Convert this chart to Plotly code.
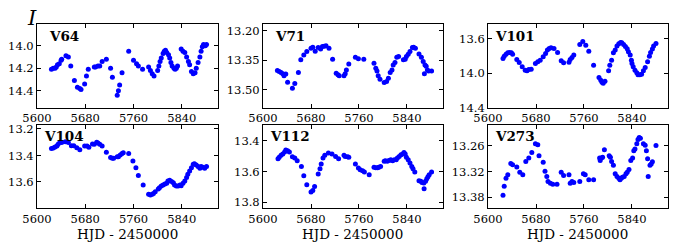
import plotly.graph_objects as go

# ---- data (HJD - 2450000, I magnitude) ----
V64_T = [5624, 5627, 5630, 5632, 5634, 5637, 5640, 5641, 5648, 5652, 5656, 5662, 5667, 5671, 5673,
         5679, 5682, 5685, 5695, 5697, 5701, 5704, 5708, 5715, 5722, 5725, 5733, 5735, 5737, 5741,
         5752, 5760, 5765, 5768, 5775, 5785, 5788, 5791, 5794, 5800, 5802, 5804, 5806, 5809, 5811,
         5813, 5815, 5818, 5820, 5822, 5824, 5827, 5829, 5831, 5833, 5839, 5842, 5845, 5848, 5851,
         5853, 5856, 5859, 5862, 5864, 5867, 5870, 5872, 5874, 5876, 5879, 5881]
V64_M = [14.21, 14.20, 14.20, 14.19, 14.17, 14.16, 14.13, 14.12, 14.09, 14.10, 14.18, 14.31, 14.37, 14.38, 14.39,
         14.34, 14.27, 14.21, 14.19, 14.19, 14.18, 14.18, 14.14, 14.12, 14.20, 14.28, 14.44, 14.40, 14.35, 14.24,
         14.05, 14.13, 14.16, 14.18, 14.21, 14.19, 14.22, 14.25, 14.27, 14.22, 14.18, 14.14, 14.11, 14.07, 14.05,
         14.04, 14.06, 14.08, 14.11, 14.15, 14.18, 14.20, 14.21, 14.20, 14.18, 14.03, 14.05, 14.06, 14.10, 14.14,
         14.17, 14.23, 14.25, 14.24, 14.20, 14.15, 14.10, 14.05, 14.01, 13.99, 14.00, 13.99]

V71_T = [5624, 5627, 5630, 5633, 5635, 5638, 5641, 5649, 5653, 5659, 5663, 5668, 5673, 5680, 5683,
         5687, 5692, 5696, 5699, 5702, 5705, 5710, 5716, 5722, 5725, 5727, 5735, 5737, 5739, 5743,
         5754, 5759, 5768, 5785, 5788, 5790, 5792, 5795, 5802, 5806, 5809, 5812, 5815, 5817, 5820,
         5823, 5826, 5834, 5837, 5839, 5842, 5845, 5849, 5851, 5854, 5860, 5864, 5867, 5869, 5870,
         5872, 5874, 5876, 5881]
V71_M = [13.402, 13.407, 13.412, 13.419, 13.428, 13.420, 13.461, 13.492, 13.468, 13.412, 13.347, 13.323, 13.306, 13.289, 13.284,
         13.305, 13.286, 13.293, 13.281, 13.279, 13.276, 13.289, 13.345, 13.416, 13.424, 13.429, 13.429, 13.419, 13.399, 13.369,
         13.335, 13.343, 13.345, 13.365, 13.391, 13.404, 13.429, 13.446, 13.463, 13.458, 13.441, 13.412, 13.399, 13.374, 13.362,
         13.335, 13.331, 13.348, 13.345, 13.331, 13.320, 13.306, 13.286, 13.284, 13.289, 13.318, 13.335, 13.357, 13.419, 13.374,
         13.380, 13.399, 13.404, 13.404]

V101_T = [5625, 5627, 5630, 5633, 5636, 5639, 5641, 5648, 5652, 5657, 5662, 5665, 5668, 5672, 5679,
          5683, 5687, 5692, 5696, 5699, 5702, 5705, 5710, 5716, 5722, 5726, 5735, 5737, 5740, 5743,
          5753, 5758, 5763, 5768, 5776, 5785, 5788, 5790, 5792, 5795, 5801, 5803, 5806, 5809, 5812,
          5815, 5818, 5821, 5823, 5826, 5829, 5832, 5834, 5837, 5839, 5840, 5842, 5845, 5848, 5850,
          5853, 5856, 5859, 5862, 5866, 5869, 5871, 5874, 5876, 5880]
V101_M = [13.829, 13.802, 13.779, 13.763, 13.759, 13.763, 13.779, 13.841, 13.876, 13.926, 13.965, 13.973, 13.957, 13.953, 13.887,
          13.868, 13.849, 13.810, 13.771, 13.732, 13.713, 13.705, 13.713, 13.759, 13.856, 13.880, 13.872, 13.841, 13.817, 13.790,
          13.666, 13.631, 13.674, 13.744, 13.907, 14.050, 14.082, 14.105, 14.117, 14.093, 13.973, 13.907, 13.849, 13.763, 13.732,
          13.685, 13.658, 13.643, 13.647, 13.666, 13.689, 13.717, 13.751, 13.790, 13.849, 13.887, 13.926, 13.965, 13.996, 14.019,
          14.019, 14.012, 13.973, 13.934, 13.868, 13.802, 13.759, 13.720, 13.685, 13.654]

V104_T = [5624, 5627, 5630, 5633, 5635, 5638, 5641, 5647, 5652, 5657, 5661, 5666, 5671, 5679, 5683,
          5686, 5692, 5695, 5699, 5701, 5704, 5708, 5715, 5722, 5725, 5727, 5733, 5735, 5738, 5741,
          5743, 5752, 5759, 5764, 5768, 5776, 5785, 5788, 5791, 5793, 5796, 5801, 5803, 5806, 5809,
          5812, 5815, 5817, 5820, 5823, 5826, 5828, 5831, 5834, 5837, 5839, 5842, 5845, 5848, 5850,
          5853, 5856, 5859, 5861, 5864, 5867, 5870, 5872, 5875, 5878, 5881]
V104_M = [13.348, 13.343, 13.336, 13.328, 13.316, 13.301, 13.303, 13.296, 13.303, 13.326, 13.326, 13.341, 13.356, 13.328, 13.328,
          13.338, 13.313, 13.316, 13.301, 13.306, 13.316, 13.328, 13.376, 13.416, 13.421, 13.421, 13.409, 13.409, 13.396, 13.386,
          13.379, 13.386, 13.442, 13.492, 13.552, 13.623, 13.693, 13.698, 13.693, 13.686, 13.673, 13.653, 13.643, 13.630, 13.623,
          13.615, 13.610, 13.592, 13.587, 13.597, 13.605, 13.623, 13.630, 13.630, 13.623, 13.628, 13.610, 13.592, 13.567, 13.542,
          13.517, 13.492, 13.467, 13.462, 13.472, 13.484, 13.497, 13.484, 13.489, 13.497, 13.484]

V112_T = [5625, 5627, 5630, 5633, 5636, 5638, 5641, 5644, 5649, 5653, 5657, 5664, 5668, 5673, 5680,
          5683, 5686, 5692, 5695, 5697, 5700, 5703, 5709, 5715, 5721, 5726, 5735, 5737, 5741, 5743,
          5754, 5759, 5762, 5766, 5769, 5777, 5785, 5788, 5791, 5793, 5796, 5802, 5804, 5807, 5810,
          5813, 5816, 5819, 5822, 5824, 5827, 5830, 5833, 5835, 5837, 5839, 5842, 5845, 5848, 5850,
          5853, 5860, 5863, 5865, 5868, 5868.5, 5871, 5873, 5875, 5877, 5881]
V112_M = [13.517, 13.508, 13.495, 13.487, 13.474, 13.461, 13.465, 13.474, 13.504, 13.513, 13.530, 13.567, 13.627, 13.686, 13.733,
          13.723, 13.697, 13.616, 13.582, 13.552, 13.513, 13.495, 13.480, 13.487, 13.502, 13.517, 13.495, 13.502, 13.504, 13.508,
          13.552, 13.577, 13.588, 13.595, 13.603, 13.621, 13.573, 13.576, 13.576, 13.573, 13.567, 13.534, 13.530, 13.534, 13.528,
          13.523, 13.530, 13.523, 13.523, 13.513, 13.502, 13.491, 13.487, 13.476, 13.487, 13.508, 13.523, 13.545, 13.567, 13.582,
          13.603, 13.660, 13.664, 13.671, 13.675, 13.712, 13.664, 13.647, 13.634, 13.621, 13.603]

V273_T = [5625, 5627, 5630, 5633, 5638, 5641, 5648, 5653, 5658, 5663, 5668, 5673, 5679, 5683, 5685,
          5692, 5695, 5698, 5700, 5704, 5708, 5715, 5722, 5726, 5735, 5737, 5740, 5743, 5753, 5759,
          5762, 5768, 5776, 5786, 5787, 5789, 5791, 5794, 5802, 5804, 5806, 5809, 5812, 5815, 5818,
          5820, 5822, 5824, 5827, 5830, 5832, 5835, 5838, 5841, 5843, 5845, 5848, 5850, 5852, 5854,
          5859, 5862, 5864, 5866, 5867, 5870, 5872, 5874, 5880]
V273_M = [13.375, 13.354, 13.335, 13.327, 13.301, 13.304, 13.309, 13.321, 13.327, 13.296, 13.288, 13.275, 13.255, 13.257, 13.283,
          13.298, 13.319, 13.331, 13.343, 13.347, 13.349, 13.349, 13.321, 13.329, 13.327, 13.347, 13.343, 13.345, 13.343, 13.325,
          13.327, 13.339, 13.339, 13.288, 13.294, 13.288, 13.286, 13.269, 13.283, 13.286, 13.296, 13.305, 13.325, 13.331, 13.335,
          13.339, 13.335, 13.333, 13.331, 13.325, 13.321, 13.315, 13.294, 13.288, 13.271, 13.267, 13.255, 13.245, 13.240, 13.242,
          13.255, 13.258, 13.271, 13.290, 13.331, 13.305, 13.302, 13.297, 13.259]

STARS = ["V64", "V71", "V101", "V104", "V112", "V273"]
TIMES = [V64_T, V71_T, V101_T, V104_T, V112_T, V273_T]
MAGS = [V64_M, V71_M, V101_M, V104_M, V112_M, V273_M]

X_TICKS = [5600, 5680, 5760, 5840]
X_TITLE = "HJD - 2450000"
Y_TITLE = "I"
Y_TICKS = [
    [14.0, 14.2, 14.4],
    [13.20, 13.35, 13.50],
    [13.6, 14.0, 14.4],
    [13.2, 13.4, 13.6],
    [13.4, 13.6, 13.8],
    [13.26, 13.32, 13.38],
]
Y_TICK_TEXT = [
    ["14.0", "14.2", "14.4"],
    ["13.20", "13.35", "13.50"],
    ["13.6", "14.0", "14.4"],
    ["13.2", "13.4", "13.6"],
    ["13.4", "13.6", "13.8"],
    ["13.26", "13.32", "13.38"],
]

# axis limits (magnitudes, bright at top)
Y_RANGES = [
    [14.55, 13.81],
    [13.59, 13.168],
    [14.4, 13.432],
    [13.794, 13.17],
    [13.835, 13.298],
    [13.404, 13.211],
]
X_DOMAINS = [[0.0543, 0.3201], [0.3862, 0.6505], [0.7166, 0.9809]]
Y_DOMAINS = [[0.566, 0.902], [0.1625, 0.496]]

FONT = "DejaVu Serif"

fig = go.Figure()
layout = dict(
    width=681, height=248,
    template="none",
    margin=dict(l=0, r=0, t=0, b=0),
    paper_bgcolor="white", plot_bgcolor="white",
    font=dict(family=FONT, size=12, color="black"),
    showlegend=False,
    annotations=[],
)

for i, star in enumerate(STARS):
    n = i + 1
    row, col = divmod(i, 3)
    xa = "x" if n == 1 else f"x{n}"
    ya = "y" if n == 1 else f"y{n}"
    fig.add_trace(go.Scatter(
        x=TIMES[i], y=MAGS[i], mode="markers",
        marker=dict(color="#0000ff", size=5, line=dict(width=0)),
        xaxis=xa, yaxis=ya, hoverinfo="x+y",
    ))
    common = dict(
        showline=True, linecolor="black", linewidth=1, mirror="ticks",
        ticks="inside", ticklen=4, tickwidth=1, tickcolor="black",
        showgrid=False, zeroline=False, automargin=False,
        tickfont=dict(family=FONT, size=11.5, color="black"),
    )
    layout["xaxis" if n == 1 else f"xaxis{n}"] = dict(
        common, domain=X_DOMAINS[col], anchor=ya, range=[5600, 5900],
        tickvals=X_TICKS, ticktext=[str(v) for v in X_TICKS],
    )
    layout["yaxis" if n == 1 else f"yaxis{n}"] = dict(
        common, domain=Y_DOMAINS[row], anchor=xa, range=Y_RANGES[i],
        tickvals=Y_TICKS[i], ticktext=Y_TICK_TEXT[i],
    )
    # star name inside the panel
    layout["annotations"].append(dict(
        text=f"<b>{star}</b>", xref=f"{xa} domain", yref=f"{ya} domain",
        x=0.15, y=0.865, xanchor="center", yanchor="middle", showarrow=False,
        font=dict(family=FONT, size=13.5, color="black"),
    ))
    # x-axis title under the bottom row
    if row == 1:
        layout["annotations"].append(dict(
            text=X_TITLE, xref=f"{xa} domain", yref="paper",
            x=0.5, y=0.058, xanchor="center", yanchor="middle", showarrow=False,
            borderpad=0, font=dict(family=FONT, size=13.5, color="black"),
        ))

layout["annotations"].append(dict(
    text=f"<i>{Y_TITLE}</i>", xref="paper", yref="paper", x=0.047, y=0.929,
    xanchor="center", yanchor="middle", showarrow=False,
    font=dict(family=FONT, size=21, color="black"),
))

fig.update_layout(**layout)
fig.write_html(
    "out.html",
    config={"displayModeBar": False},
    post_script="document.body.style.margin='0';",
)
